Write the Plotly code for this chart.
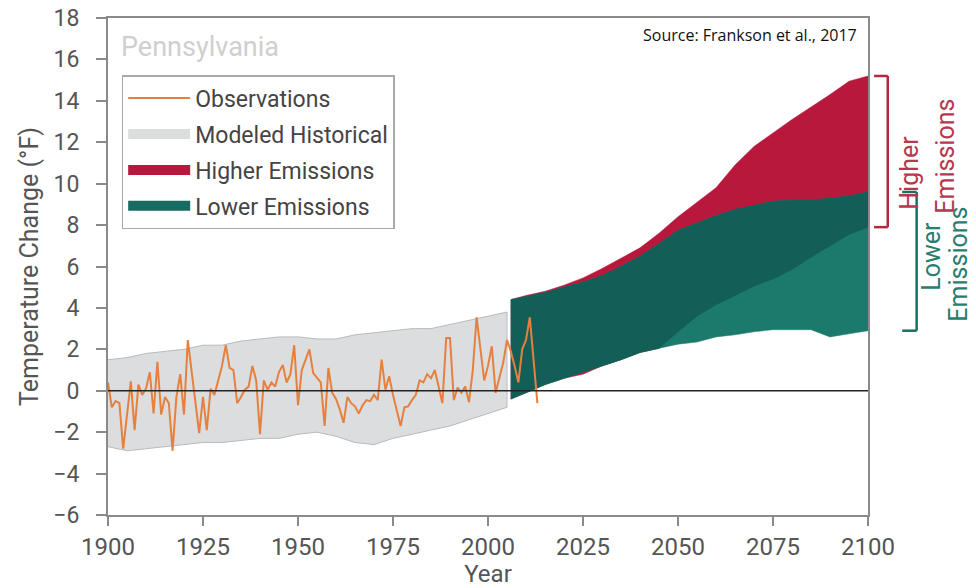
import plotly.graph_objects as go
import numpy as np

# ---------------- data ----------------
obs_years = list(range(1900, 2015))
obs_values = [
    0.4, -0.8, -0.5, -0.6, -2.8, -1.2, 0.45, -1.9, 0.3, -0.2,
    0.1, 0.9, -1.1, 1.4, -1.15, -0.3, -0.6, -2.9, -0.3, 0.8,
    -1.15, 2.45, 1.0, -0.5, -2.05, -0.3, -1.9, 0.1, -0.2, 0.5,
    1.2, 2.2, 1.1, 1.0, -0.6, -0.3, 0.05, 0.2, 1.2, 0.5,
    -2.1, 0.5, 0.05, 0.4, 0.2, 0.9, 1.25, 0.4, 0.8, 2.2,
    -0.7, 1.0, 1.5, 2.0, 0.85, 0.6, 0.4, -1.7, 1.1, -0.1,
    -0.4, -0.9, -1.55, -0.3, -0.6, -0.75, -1.1, -0.7, -0.45, -0.5,
    -0.2, -0.45, 1.5, 0.05, 0.7, -0.2, -0.9, -1.7, -0.8, -0.75,
    -0.45, -0.2, 0.5, 0.4, 0.8, 0.6, 1.0, 0.2, -0.6, 2.55,
    2.55, -0.45, 0.15, -0.1, 0.2, -0.55, 1.0, 3.55, 2.0, 0.5,
    1.2, 2.15, -0.1, 0.6, 1.35, 2.45, 1.9, 1.2, 0.4, 2.0,
    2.45, 3.55, 1.5, -0.6,
]

hist_years = list(range(1900, 2006, 5))
hist_upper = [1.5, 1.6, 1.8, 1.9, 2.0, 2.2, 2.2, 2.4, 2.5, 2.6, 2.6,
              2.5, 2.5, 2.7, 2.8, 2.9, 3.0, 3.0, 3.2, 3.4, 3.6, 3.8]
hist_lower = [-2.7, -2.9, -2.8, -2.7, -2.6, -2.5, -2.5, -2.4, -2.3, -2.3, -2.1,
              -2.0, -2.2, -2.5, -2.6, -2.3, -2.1, -1.9, -1.7, -1.4, -1.1, -0.8]

proj_years = [2006, 2010, 2015, 2020, 2025, 2030, 2035, 2040, 2045, 2050,
              2055, 2060, 2065, 2070, 2075, 2080, 2085, 2090, 2095, 2100]
higher_upper = [4.4, 4.6, 4.8, 5.1, 5.45, 5.9, 6.4, 6.9, 7.6, 8.4,
                9.1, 9.8, 10.9, 11.8, 12.45, 13.1, 13.7, 14.3, 14.95, 15.2]
higher_lower = [-0.4, -0.1, 0.3, 0.6, 0.8, 1.2, 1.5, 1.85, 2.05, 2.85,
                3.6, 4.15, 4.6, 5.05, 5.4, 5.85, 6.45, 7.0, 7.55, 7.9]
lower_upper = [4.4, 4.55, 4.75, 5.0, 5.25, 5.55, 6.0, 6.5, 7.1, 7.75,
               8.1, 8.45, 8.75, 8.95, 9.15, 9.2, 9.2, 9.3, 9.4, 9.6]
lower_lower = [-0.4, -0.1, 0.3, 0.6, 0.9, 1.2, 1.5, 1.85, 2.05, 2.25,
               2.35, 2.6, 2.7, 2.85, 2.95, 2.95, 2.95, 2.6, 2.75, 2.9]

legend_names = ["Observations", "Modeled Historical", "Higher Emissions", "Lower Emissions"]
x_ticks = [1900, 1925, 1950, 1975, 2000, 2025, 2050, 2075, 2100]
y_ticks = list(range(-6, 19, 2))

# ---------------- styles ----------------
FONT = "Roboto"
GREY_FILL = "#dcdddf"
GREY_EDGE = "#b9babc"
RED = "#b8183b"
TEAL_DARK = "#135e57"
TEAL_LIGHT = "#1c7a6c"
TEAL_LEGEND = "#176b62"
ORANGE = "#e5803f"
AXIS = "#8a8a8a"
TEXT = "#555555"


def band(xs, up, lo):
    return list(xs) + list(xs)[::-1], list(up) + list(lo)[::-1]


fig = go.Figure()

bx, by = band(hist_years, hist_upper, hist_lower)
fig.add_trace(go.Scatter(x=bx, y=by, fill="toself", fillcolor=GREY_FILL,
                         line=dict(color=GREY_EDGE, width=1),
                         showlegend=False, hoverinfo="skip"))

bx, by = band(proj_years, higher_upper, higher_lower)
fig.add_trace(go.Scatter(x=bx, y=by, fill="toself", fillcolor=RED,
                         line=dict(color=RED, width=0.5),
                         showlegend=False, hoverinfo="skip"))

bx, by = band(proj_years, lower_upper, lower_lower)
fig.add_trace(go.Scatter(x=bx, y=by, fill="toself", fillcolor=TEAL_LIGHT,
                         line=dict(color=TEAL_LIGHT, width=0.5),
                         showlegend=False, hoverinfo="skip"))

ov_up = np.minimum(higher_upper, lower_upper)
ov_lo = np.maximum(higher_lower, lower_lower)
bx, by = band(proj_years, ov_up, ov_lo)
fig.add_trace(go.Scatter(x=bx, y=by, fill="toself", fillcolor=TEAL_DARK,
                         line=dict(color=TEAL_DARK, width=0.5),
                         showlegend=False, hoverinfo="skip"))

fig.add_trace(go.Scatter(x=obs_years, y=obs_values, mode="lines",
                         line=dict(color=ORANGE, width=2),
                         name=legend_names[0], legendgroup="g1", legendrank=1))

# legend swatches for the bands (thick bars like the reference key)
for nm, col, rk in [(legend_names[1], GREY_FILL, 2), (legend_names[2], RED, 3),
                    (legend_names[3], TEAL_LEGEND, 4)]:
    fig.add_trace(go.Scatter(x=[None], y=[None], mode="lines",
                             line=dict(color=col, width=15),
                             name=nm, legendgroup="g%d" % rk, legendrank=rk,
                             hoverinfo="skip"))

# zero line above the bands
fig.add_shape(type="line", xref="paper", x0=0, x1=1, yref="y", y0=0, y1=0,
              line=dict(color="#222222", width=1.5), layer="above")


# brackets on the right, spanning the 2100 ranges
def bracket(x_in, x_out, top, bottom, color):
    for y in (top, bottom):
        fig.add_shape(type="line", xref="paper", yref="y", x0=x_in, x1=x_out,
                      y0=y, y1=y, line=dict(color=color, width=2.5))
    fig.add_shape(type="line", xref="paper", yref="y", x0=x_out, x1=x_out,
                  y0=top, y1=bottom, line=dict(color=color, width=2.5))


bracket(1.008, 1.026, higher_upper[-1], higher_lower[-1], "#b3263f")
bracket(1.045, 1.064, lower_upper[-1], lower_lower[-1], "#1c6e62")

side_labels = [
    ("Higher", 1.0553, 10.53, "#b5384d"),
    ("Emissions", 1.1026, 11.35, "#b5384d"),
    ("Lower", 1.0842, 6.52, "#2a7d6e"),
    ("Emissions", 1.1195, 6.13, "#2a7d6e"),
]
for txt, xp, yv, col in side_labels:
    fig.add_annotation(text=txt, xref="paper", yref="y", x=xp, y=yv,
                       xanchor="center", yanchor="middle",
                       textangle=-90, showarrow=False,
                       font=dict(family=FONT, size=25, color=col))

fig.add_annotation(text="Pennsylvania", xref="paper", yref="paper",
                   x=0.015, y=0.942, xanchor="left", yanchor="middle",
                   showarrow=False, font=dict(family=FONT, size=27, color="#cfcfcf"))
fig.add_annotation(text="Source: Frankson et al., 2017", xref="paper", yref="paper",
                   x=0.988, y=0.966, xanchor="right", yanchor="middle",
                   showarrow=False, font=dict(family="Open Sans", size=16, color="#111111"))

fig.update_layout(
    template="none",
    width=968, height=580,
    margin=dict(l=100, r=108, t=10, b=73, autoexpand=False),
    plot_bgcolor="white", paper_bgcolor="white",
    font=dict(family=FONT, color=TEXT),
    showlegend=True,
    legend=dict(x=0.018, y=0.885, xanchor="left", yanchor="top",
                bgcolor="white", bordercolor="#a8a8a8", borderwidth=1.5,
                font=dict(family=FONT, size=23, color="#444444"),
                traceorder="grouped", tracegroupgap=3, itemwidth=62),
    xaxis=dict(range=[1900, 2100], tickvals=x_ticks, showgrid=False, zeroline=False,
               automargin=False, ticklabeloverflow="allow",
               showline=True, linecolor=AXIS, linewidth=2, mirror=True,
               ticks="outside", ticklen=9, tickcolor=AXIS, tickwidth=1.5,
               tickfont=dict(family=FONT, size=24, color=TEXT),
               title=dict(text="Year", font=dict(family=FONT, size=24, color=TEXT),
                          standoff=0)),
    yaxis=dict(range=[-6, 18], tickvals=y_ticks, showgrid=False, zeroline=False,
               automargin=False, ticklabeloverflow="allow",
               showline=True, linecolor=AXIS, linewidth=2, mirror=True,
               ticks="outside", ticklen=10, tickcolor=AXIS, tickwidth=1.5,
               ticklabelstandoff=12,
               tickfont=dict(family=FONT, size=23, color=TEXT),
               title=dict(text="Temperature Change (°F)",
                          font=dict(family=FONT, size=25, color=TEXT), standoff=8)),
)

fig.write_html("out.html")
